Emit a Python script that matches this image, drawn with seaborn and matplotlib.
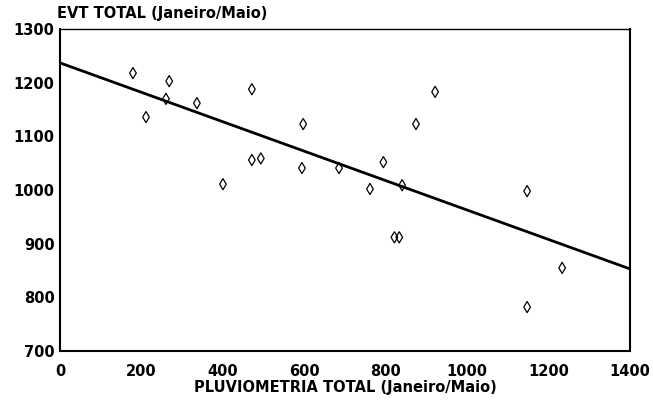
import matplotlib
matplotlib.use("Agg")
import matplotlib.pyplot as plt
import seaborn as sns
import pandas as pd

# Data
pluviometria = [179, 211, 260, 268, 336, 400, 471, 471, 493, 594, 597,
                685, 761, 794, 821, 833, 840, 874, 921, 1147, 1147, 1233]
evt = [1218, 1136, 1170, 1203, 1162, 1011, 1188, 1056, 1059, 1041, 1123,
       1041, 1002, 1052, 912, 912, 1009, 1123, 1183, 998, 782, 855]
line_x = [0, 1400]
line_y = [1237, 853]
x_ticks = [0, 200, 400, 600, 800, 1000, 1200, 1400]
y_ticks = [700, 800, 900, 1000, 1100, 1200, 1300]

sns.set_theme(style="white")
plt.rcParams['font.family'] = ['DejaVu Sans']

df = pd.DataFrame({"x": pluviometria, "y": evt})
dl = pd.DataFrame({"x": line_x, "y": line_y})

fig = plt.figure(figsize=(6.53, 4.04), dpi=100)
ax = fig.add_axes([0.092, 0.131, 0.873, 0.797])

sns.lineplot(data=dl, x="x", y="y", ax=ax, color="black", linewidth=2.0)
sns.scatterplot(data=df, x="x", y="y", ax=ax, marker="d", s=32,
                facecolor="none", edgecolor="black", linewidth=0.9)

ax.set_xlim(0, 1400)
ax.set_ylim(700, 1300)
ax.set_xticks(x_ticks)
ax.set_yticks(y_ticks)
ax.set_xticklabels([str(t) for t in x_ticks], fontsize=10.5,
                   fontweight="bold", color="black")
ax.set_yticklabels([str(t) for t in y_ticks], fontsize=10.5,
                   fontweight="bold", color="black")
ax.tick_params(axis="both", direction="in", length=5, width=1, colors="black")
ax.tick_params(axis="x", pad=9)
ax.tick_params(axis="y", pad=4)

for side in ["left", "bottom", "right", "top"]:
    ax.spines[side].set_visible(True)
    ax.spines[side].set_color("black")
ax.spines["left"].set_linewidth(1.5)
ax.spines["bottom"].set_linewidth(1.5)
ax.spines["right"].set_linewidth(1.5)
ax.spines["top"].set_linewidth(1.0)

ax.set_xlabel("PLUVIOMETRIA TOTAL (Janeiro/Maio)", fontsize=10.5,
              fontweight="bold", labelpad=1, color="black")
ax.set_ylabel("")
ax.text(-0.005, 1.025, "EVT TOTAL (Janeiro/Maio)", transform=ax.transAxes,
        fontsize=10.5, fontweight="bold", ha="left", va="bottom", color="black")

fig.savefig("out.png", dpi=100, facecolor="white")
